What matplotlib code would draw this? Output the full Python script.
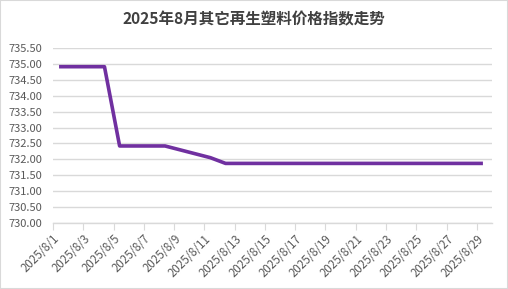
import matplotlib
matplotlib.use("Agg")
import matplotlib.pyplot as plt
from matplotlib.patches import Rectangle

plt.rcParams['font.family'] = ['Noto Sans CJK SC', 'DejaVu Sans']

title = "2025年8月其它再生塑料价格指数走势"
days = [1, 4, 5, 6, 7, 8, 11, 12, 13, 14, 15, 18, 19, 20, 21, 22, 25, 26, 27, 28, 29]
values = [734.92, 734.92, 732.42, 732.42, 732.42, 732.42, 732.05, 731.87, 731.87, 731.87,
          731.87, 731.87, 731.87, 731.87, 731.87, 731.87, 731.87, 731.87, 731.87, 731.87, 731.87]
tick_days = list(range(1, 30, 2))
tick_labels = [f"2025/8/{d}" for d in tick_days]
y_ticks = [730 + 0.5 * i for i in range(12)]

fig = plt.figure(figsize=(5.08, 2.89), dpi=100)
fig.patches.append(Rectangle((0, 0), 1, 1, transform=fig.transFigure, fill=False,
                             edgecolor='#d9d9d9', linewidth=1.5))
ax = fig.add_axes([53/508, 1 - 222.7/289, (492-53)/508, (222.7-48.3)/289])

ax.plot(days, values, color='#7030A0', linewidth=2.6, solid_capstyle='butt', solid_joinstyle='round')

ax.set_xlim(0.6, 29.6)
ax.set_ylim(730, 735.5)
ax.set_yticks(y_ticks)
ax.set_yticklabels([f"{v:.2f}" for v in y_ticks], fontsize=8, color='#595959')
ax.set_xticks([d - 0.4 for d in tick_days])
ax.set_xticklabels(tick_labels, rotation=45, ha='right', va='top', rotation_mode='anchor',
                   fontsize=8.3, color='#595959')
ax.tick_params(axis='y', length=0, pad=8)
ax.tick_params(axis='x', length=5, color='#d9d9d9', pad=2)
ax.grid(axis='y', color='#d9d9d9', linewidth=1)
ax.set_axisbelow(True)
for s in ['top', 'right', 'left']:
    ax.spines[s].set_visible(False)
ax.spines['bottom'].set_color('#d9d9d9')
ax.spines['bottom'].set_linewidth(1)

fig.text(0.5, 1 - 19.5/289, title, ha='center', va='center', fontsize=11.2,
         fontweight='bold', color='#404040')

fig.savefig('out.png', dpi=100)
